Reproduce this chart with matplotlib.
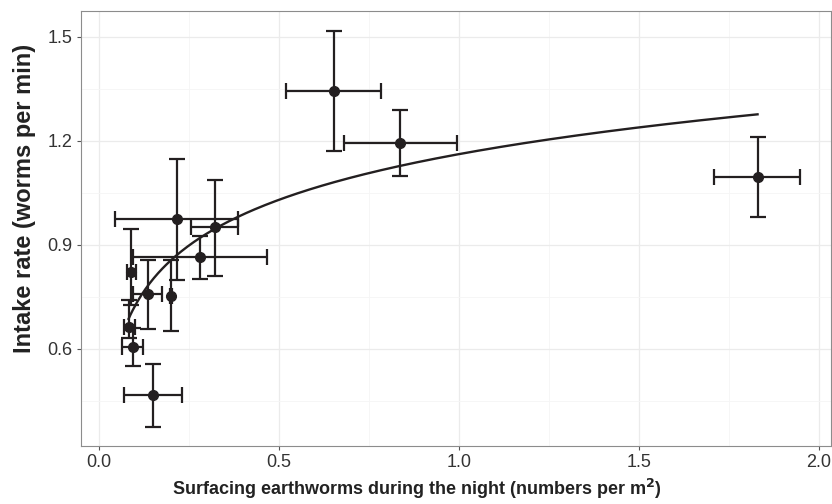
import numpy as np
import matplotlib
matplotlib.use("Agg")
import matplotlib.pyplot as plt
from matplotlib.ticker import MultipleLocator

plt.rcParams["font.family"] = ["Liberation Sans", "DejaVu Sans"]

# surfacing earthworms (x) with error-bar limits
worms = [0.652, 0.837, 1.829, 0.216, 0.321, 0.281, 0.200, 0.137, 0.090, 0.082, 0.094, 0.149]
worms_lo = [0.519, 0.679, 1.709, 0.044, 0.255, 0.095, 0.196, 0.095, 0.077, 0.070, 0.064, 0.070]
worms_hi = [0.783, 0.995, 1.947, 0.387, 0.387, 0.466, 0.204, 0.176, 0.103, 0.100, 0.121, 0.230]

# intake rate (y) with error-bar limits
intake = [1.344, 1.192, 1.094, 0.973, 0.950, 0.865, 0.751, 0.757, 0.822, 0.663, 0.604, 0.466]
intake_lo = [1.170, 1.098, 0.980, 0.798, 0.809, 0.800, 0.651, 0.656, 0.725, 0.630, 0.550, 0.375]
intake_hi = [1.517, 1.288, 1.209, 1.147, 1.086, 0.926, 0.855, 0.855, 0.944, 0.740, 0.660, 0.555]

# fitted curve: intake = a + b * ln(worms)
fit_a = 1.161
fit_b = 0.190

x = np.array(worms)
y = np.array(intake)
xerr = [x - np.array(worms_lo), np.array(worms_hi) - x]
yerr = [y - np.array(intake_lo), np.array(intake_hi) - y]

ink = "#231f20"

fig = plt.figure(figsize=(8.32, 5.04), dpi=100)
ax = fig.add_axes([0.0974, 0.115, 0.9014, 0.863])

ax.errorbar(x, y, xerr=xerr, yerr=yerr, fmt="none", ecolor=ink,
            elinewidth=1.6, capsize=6, capthick=1.6, zorder=3)
ax.plot(x, y, "o", color=ink, markersize=7, zorder=4)

xs = np.linspace(x.min(), x.max(), 300)
ax.plot(xs, fit_a + fit_b * np.log(xs), color=ink, linewidth=1.7, zorder=5)

ax.set_xlim(-0.05, 2.033)
ax.set_ylim(0.319, 1.5735)
ax.xaxis.set_major_locator(MultipleLocator(0.5))
ax.xaxis.set_minor_locator(MultipleLocator(0.25))
ax.set_yticks([0.6, 0.9, 1.2, 1.5])
ax.yaxis.set_minor_locator(MultipleLocator(0.15))
ax.xaxis.set_major_formatter(plt.FuncFormatter(lambda v, p: f"{v:.1f}"))
ax.yaxis.set_major_formatter(plt.FuncFormatter(lambda v, p: f"{v:.1f}"))

ax.grid(which="major", color="#ebebeb", linewidth=0.9, zorder=0)
ax.grid(which="minor", color="#f5f5f5", linewidth=0.6, zorder=0)
ax.set_axisbelow(True)
for s in ax.spines.values():
    s.set_color("#8c8c8c")
    s.set_linewidth(0.8)
ax.tick_params(which="major", length=3, color="#555555", labelsize=13,
               labelcolor="#333333", pad=3)
ax.tick_params(which="minor", length=0)

ax.set_xlabel("Surfacing earthworms during the night (numbers per m$^\\mathbf{2}$)",
              fontsize=13, fontweight="bold", color="#222222")
ax.set_ylabel("Intake rate (worms per min)", fontsize=17, fontweight="bold",
              color="#222222")
ax.xaxis.set_label_coords(0.448, -0.072)
ax.yaxis.set_label_coords(-0.060, 0.57)

fig.savefig("out.png", dpi=100)
